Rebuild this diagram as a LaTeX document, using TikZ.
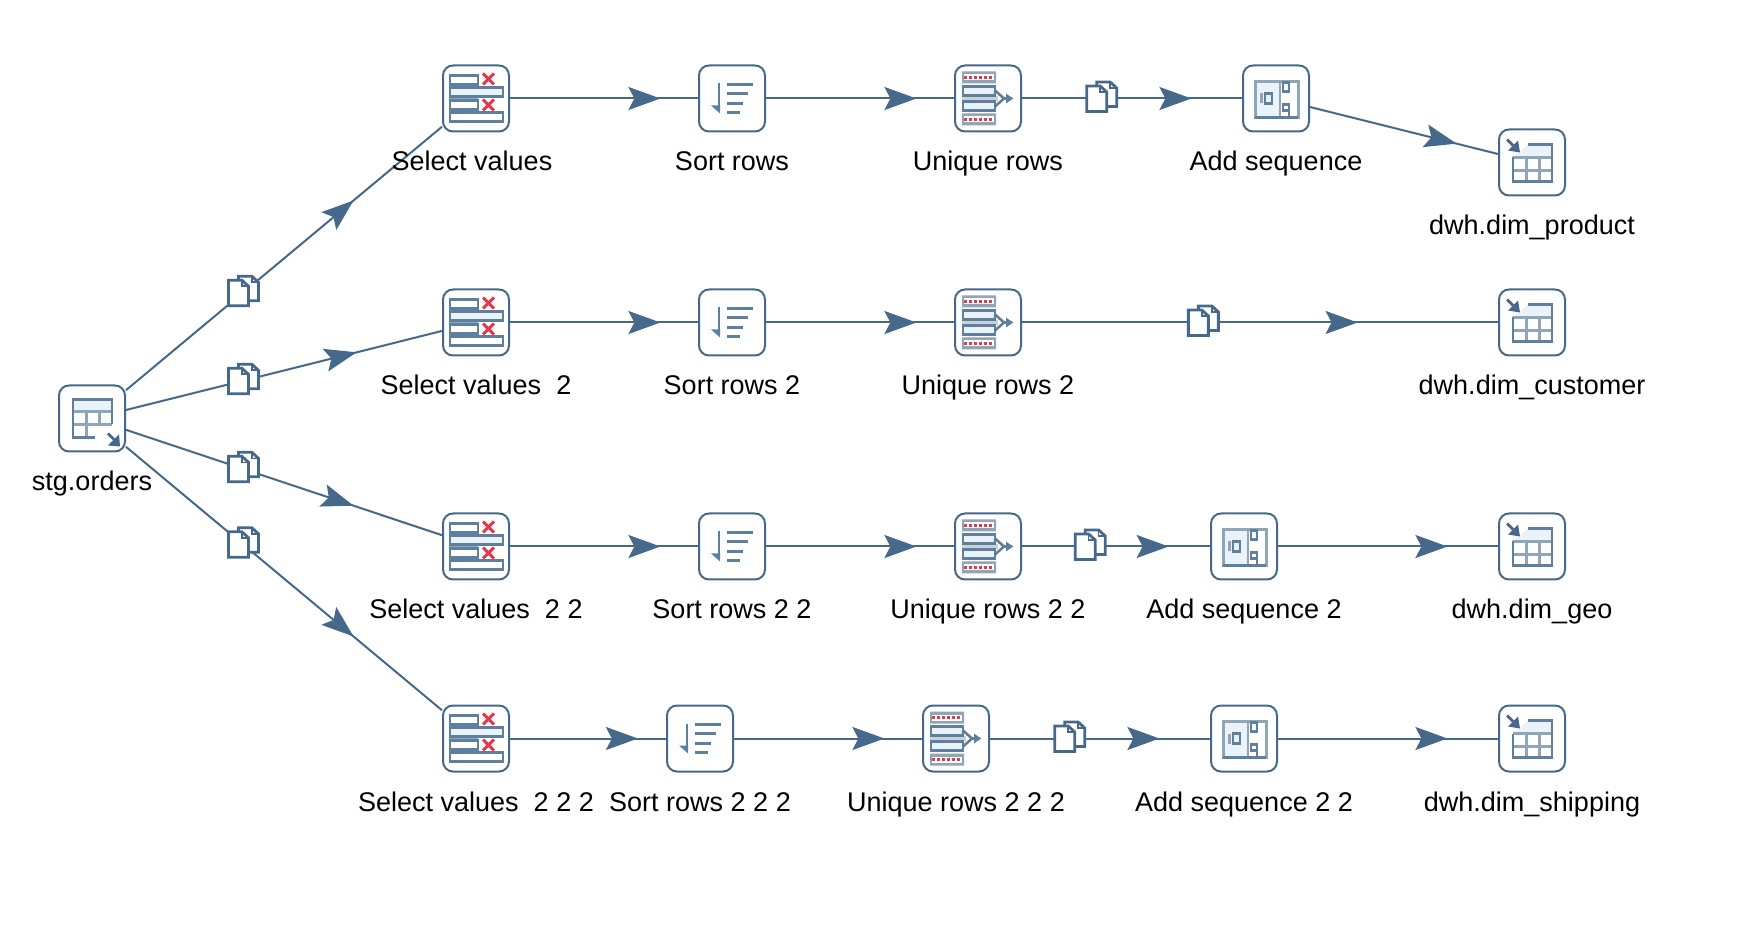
\documentclass[tikz,border=0pt]{standalone}
\usepackage{fontspec}
\setmainfont{Liberation Sans}
\usetikzlibrary{arrows.meta,decorations.markings}
\definecolor{hopcol}{HTML}{46688A}
\definecolor{iconcol}{HTML}{5F7F9E}
\definecolor{iconlight}{HTML}{EAF3FA}
\definecolor{icongrey}{HTML}{8FA5B8}
\definecolor{iconred}{HTML}{E23A4C}

\tikzset{
  hoptip/.tip={Stealth[length=32pt,width=23pt,inset=6pt]},
  stepbox/.style={draw=hopcol,fill=white,line width=2pt,rounded corners=10pt,
    minimum size=66pt,inner sep=0pt},
  steplabel/.style={anchor=base,inner sep=0pt,font=\fontsize{27}{30}\selectfont,text=black},
  hop/.style={draw=hopcol,color=hopcol,line width=2pt,postaction={decorate},
    decoration={markings,mark=at position #1 with {\arrow{hoptip}}}},
  iconline/.style={draw=iconcol,line width=2.6pt},
  greyline/.style={draw=icongrey,line width=3pt},
  selecticon/.pic={
    \fill[icongrey] (-27,2) rectangle (2,-2);
    \draw[iconline,fill=white] (-26,23) rectangle (2,14);
    \draw[iconline,fill=iconlight] (-26,11) rectangle (27,2);
    \draw[iconline,fill=white] (-26,-2) rectangle (2,-11);
    \draw[iconline,fill=white] (-26,-14) rectangle (27,-23);
    \draw[iconred,line width=3pt] (7,25) -- (18,14) (7,14) -- (18,25);
    \draw[iconred,line width=3pt] (7,-1) -- (18,-12) (7,-12) -- (18,-1);
  },
  sorticon/.pic={
    \draw[iconline] (-13,15) -- (-13,-8);
    \fill[iconcol] (-21,-7) -- (-12,-7) -- (-12,-15) -- cycle;
    \draw[iconline] (-5,14) -- (21,14) (-5,5) -- (16,5) (-5,-5) -- (11,-5) (-5,-14) -- (8,-14);
  },
  uniqueicon/.pic={
    \fill[icongrey] (-26,27) rectangle (8,15) (-26,-15) rectangle (8,-27);
    \draw[white,line width=6pt] (-24,21) -- (6,21) (-24,-21) -- (6,-21);
    \draw[iconred,line width=3.4pt,dash pattern=on 3pt off 2pt] (-24,21) -- (6,21) (-24,-21) -- (6,-21);
    \draw[icongrey!50,line width=5pt] (-26,0) -- (10,0);
    \draw[iconline,fill=iconlight] (-25,12) rectangle (7,3);
    \draw[iconline,fill=iconlight] (-25,-3) rectangle (7,-12);
    \draw[iconline] (7,8) -- (16,0) -- (7,-8) (16,0) -- (24,0);
    \fill[iconcol] (18,5) -- (25,0) -- (18,-5) -- cycle;
  },
  addicon/.pic={
    \fill[iconlight] (-21,17) rectangle (4,-19);
    \draw[greyline] (-21,17) rectangle (22,-19);
    \draw[draw=icongrey,line width=1.5pt] (4,17) -- (4,-19);
    \draw[draw=icongrey,line width=3pt] (-15,5) -- (-15,-5);
    \draw[iconline] (-11,5) rectangle (-4,-5);
    \draw[iconline] (7,16) rectangle (13,7);
    \draw[iconline] (7,-6) rectangle (13,-12);
    \draw[iconline] (13,-12) -- (13,-19);
    \draw[iconline] (-21,-19) -- (22,-19);
  },
  copyicon/.pic={
    \draw[draw=hopcol,line width=2.8pt,fill=white,line join=miter]
      (-4.5,16.5) -- (9,16.5) -- (15.5,10.5) -- (15.5,-8) -- (-4.5,-8) -- cycle;
    \draw[draw=hopcol,line width=2.8pt,fill=white,line join=miter]
      (-14.5,12.5) -- (-1,12.5) -- (5.5,6.5) -- (5.5,-13) -- (-14.5,-13) -- cycle;
    \draw[draw=hopcol,line width=1.6pt] (-1,12.5) -- (-1,6.5) -- (5.5,6.5);
    \draw[draw=hopcol,line width=1.6pt] (9,16.5) -- (9,10.5) -- (15.5,10.5);
  },
  tableout/.pic={
    \fill[iconlight] (-4,18) -- (20,18) -- (20,5) -- (-19,5) -- cycle;
    \draw[greyline] (-19,5) -- (20,5) (-19,-8) -- (20,-8)
      (-6,5) -- (-6,-19) (7,5) -- (7,-19);
    \draw[iconline] (-4,18) -- (20,18) -- (20,-19) -- (-19,-19) -- (-19,5);
    \draw[hopcol,line width=2.8pt] (-25,23) -- (-14,12);
    \fill[hopcol] (-24,12) -- (-12,10) -- (-14,22) -- cycle;
  },
  tablein/.pic={
    \fill[iconlight] (-19,19) rectangle (20,7);
    \draw[greyline] (-19,7) -- (20,7) (-19,-6) -- (20,-6)
      (-6,7) -- (-6,-18) (7,7) -- (7,-6);
    \draw[iconline] (3,-19) -- (-19,-19) -- (-19,19) -- (20,19) -- (20,-6);
    \draw[hopcol,line width=2.8pt] (16,-15) -- (26,-25);
    \fill[hopcol] (16,-27) -- (28,-28) -- (27,-16) -- cycle;
  }
}

\begin{document}
\begin{tikzpicture}[x=1pt,y=1pt,node distance=256pt]
  \useasboundingbox (0,0) rectangle (1742,924);

  \node[stepbox] (stg) at (92,505.5) {};

  \node[stepbox] (select1) at (476,825.5) {};
  \node[stepbox] (sort1) [right of=select1] {};
  \node[stepbox] (uniq1) [right of=sort1] {};
  \node[stepbox] (add1) [right of=uniq1,node distance=288pt] {};
  \node[stepbox] (dim1) at (1532,761.5) {};

  \node[stepbox] (select2) at (476,601.5) {};
  \node[stepbox] (sort2) [right of=select2] {};
  \node[stepbox] (uniq2) [right of=sort2] {};
  \node[stepbox] (dim2) [right of=uniq2,node distance=544pt] {};

  \node[stepbox] (select3) at (476,377.5) {};
  \node[stepbox] (sort3) [right of=select3] {};
  \node[stepbox] (uniq3) [right of=sort3] {};
  \node[stepbox] (add3) [right of=uniq3] {};
  \node[stepbox] (dim3) [right of=add3,node distance=288pt] {};

  \node[stepbox] (select4) at (476,185.5) {};
  \node[stepbox] (sort4) [right of=select4,node distance=224pt] {};
  \node[stepbox] (uniq4) [right of=sort4] {};
  \node[stepbox] (add4) [right of=uniq4,node distance=288pt] {};
  \node[stepbox] (dim4) [right of=add4,node distance=288pt] {};

  \draw[hop=.72] (stg) -- coordinate[pos=.37] (copya) (select1);
  \draw[hop=.73] (stg) -- coordinate[pos=.37] (copyb) (select2);
  \draw[hop=.72] (stg) -- coordinate[pos=.37] (copyc) (select3);
  \draw[hop=.72] (stg) -- coordinate[pos=.37] (copyd) (select4);

  \draw[hop=.8] (select1) -- (sort1);
  \draw[hop=.8] (sort1) -- (uniq1);
  \draw[hop=.77] (uniq1) -- coordinate[pos=.36] (copy1) (add1);
  \draw[hop=.78] (add1) -- (dim1);

  \draw[hop=.8] (select2) -- (sort2);
  \draw[hop=.8] (sort2) -- (uniq2);
  \draw[hop=.705] (uniq2) -- coordinate[pos=.38] (copy2) (dim2);

  \draw[hop=.8] (select3) -- (sort3);
  \draw[hop=.8] (sort3) -- (uniq3);
  \draw[hop=.78] (uniq3) -- coordinate[pos=.36] (copy3) (add3);
  \draw[hop=.77] (add3) -- (dim3);

  \draw[hop=.82] (select4) -- (sort4);
  \draw[hop=.8] (sort4) -- (uniq4);
  \draw[hop=.77] (uniq4) -- coordinate[pos=.36] (copy4) (add4);
  \draw[hop=.77] (add4) -- (dim4);

  % copies marks
  \pic at (copya) {copyicon};
  \pic at (copyb) {copyicon};
  \pic at (copyc) {copyicon};
  \pic at (copyd) {copyicon};
  \pic at (copy1) {copyicon};
  \pic at (copy2) {copyicon};
  \pic at (copy3) {copyicon};
  \pic at (copy4) {copyicon};

  % step icons
  \pic at (stg) {tablein};
  \pic at (select1) {selecticon};
  \pic at (select2) {selecticon};
  \pic at (select3) {selecticon};
  \pic at (select4) {selecticon};
  \pic at (sort1) {sorticon};
  \pic at (sort2) {sorticon};
  \pic at (sort3) {sorticon};
  \pic at (sort4) {sorticon};
  \pic at (uniq1) {uniqueicon};
  \pic at (uniq2) {uniqueicon};
  \pic at (uniq3) {uniqueicon};
  \pic at (uniq4) {uniqueicon};
  \pic at (add1) {addicon};
  \pic at (add3) {addicon};
  \pic at (add4) {addicon};
  \pic at (dim1) {tableout};
  \pic at (dim2) {tableout};
  \pic at (dim3) {tableout};
  \pic at (dim4) {tableout};

  % labels
  \node[steplabel] (lstg) at ([yshift=-72.5pt]stg.center) {stg.orders};
  \node[steplabel] (lselect1) at ([xshift=-4pt,yshift=-72.5pt]select1.center) {Select values};
  \node[steplabel] (lsort1) at ([yshift=-72.5pt]sort1.center) {Sort rows};
  \node[steplabel] (luniq1) at ([yshift=-72.5pt]uniq1.center) {Unique rows};
  \node[steplabel] (ladd1) at ([yshift=-72.5pt]add1.center) {Add sequence};
  \node[steplabel] (ldim1) at ([yshift=-72.5pt]dim1.center) {dwh.dim\_product};
  \node[steplabel] (lselect2) at ([yshift=-72.5pt]select2.center) {Select values\ \ 2};
  \node[steplabel] (lsort2) at ([yshift=-72.5pt]sort2.center) {Sort rows 2};
  \node[steplabel] (luniq2) at ([yshift=-72.5pt]uniq2.center) {Unique rows 2};
  \node[steplabel] (ldim2) at ([yshift=-72.5pt]dim2.center) {dwh.dim\_customer};
  \node[steplabel] (lselect3) at ([yshift=-72.5pt]select3.center) {Select values\ \ 2 2};
  \node[steplabel] (lsort3) at ([yshift=-72.5pt]sort3.center) {Sort rows 2 2};
  \node[steplabel] (luniq3) at ([yshift=-72.5pt]uniq3.center) {Unique rows 2 2};
  \node[steplabel] (ladd3) at ([yshift=-72.5pt]add3.center) {Add sequence 2};
  \node[steplabel] (ldim3) at ([yshift=-72.5pt]dim3.center) {dwh.dim\_geo};
  \node[steplabel] (lselect4) at ([yshift=-72.5pt]select4.center) {Select values\ \ 2 2 2};
  \node[steplabel] (lsort4) at ([yshift=-72.5pt]sort4.center) {Sort rows 2 2 2};
  \node[steplabel] (luniq4) at ([yshift=-72.5pt]uniq4.center) {Unique rows 2 2 2};
  \node[steplabel] (ladd4) at ([yshift=-72.5pt]add4.center) {Add sequence 2 2};
  \node[steplabel] (ldim4) at ([yshift=-72.5pt]dim4.center) {dwh.dim\_shipping};
\end{tikzpicture}
\end{document}
